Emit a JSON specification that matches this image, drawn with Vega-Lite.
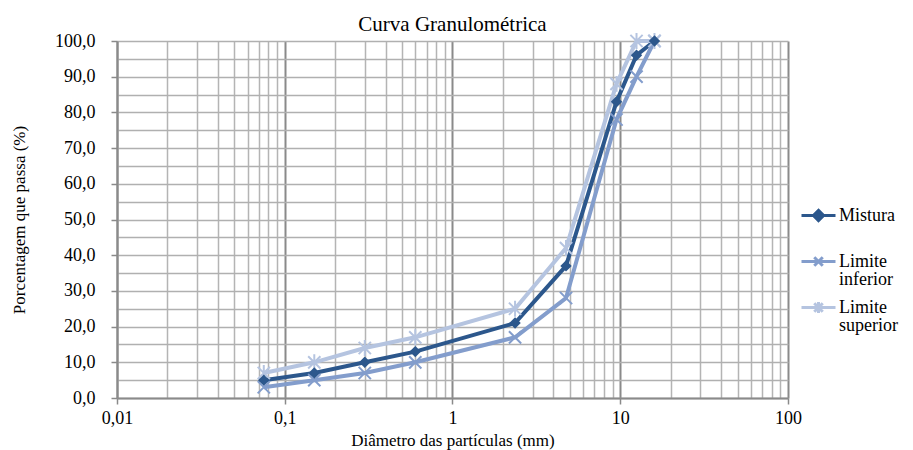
{
  "$schema": "https://vega.github.io/schema/vega-lite/v6.json",
  "autosize": {"type": "none"},
  "padding": {"left": 117, "top": 41, "right": 125, "bottom": 52},
  "width": 671,
  "height": 357,
  "background": "white",
  "title": {"text": "Curva Granulométrica", "font": "Liberation Serif", "fontSize": 21, "fontWeight": "normal", "color": "black", "offset": -6},
  "config": {
    "view": {"stroke": null},
    "font": "Liberation Serif",
    "legend": {"labelFont": "Liberation Serif", "labelFontSize": 18, "labelColor": "black", "labelLimit": 0}
  },
  "data": {"values": [
    {"serie": "Mistura", "d": 0.075, "p": 5},
    {"serie": "Mistura", "d": 0.15, "p": 7},
    {"serie": "Mistura", "d": 0.3, "p": 10},
    {"serie": "Mistura", "d": 0.6, "p": 13},
    {"serie": "Mistura", "d": 2.36, "p": 21},
    {"serie": "Mistura", "d": 4.75, "p": 37},
    {"serie": "Mistura", "d": 9.5, "p": 83},
    {"serie": "Mistura", "d": 12.5, "p": 96},
    {"serie": "Mistura", "d": 16, "p": 100},
    {"serie": "Limite inferior", "d": 0.075, "p": 3},
    {"serie": "Limite inferior", "d": 0.15, "p": 5},
    {"serie": "Limite inferior", "d": 0.3, "p": 7},
    {"serie": "Limite inferior", "d": 0.6, "p": 10},
    {"serie": "Limite inferior", "d": 2.36, "p": 17},
    {"serie": "Limite inferior", "d": 4.75, "p": 28},
    {"serie": "Limite inferior", "d": 9.5, "p": 78},
    {"serie": "Limite inferior", "d": 12.5, "p": 90},
    {"serie": "Limite inferior", "d": 16, "p": 100},
    {"serie": "Limite superior", "d": 0.075, "p": 7},
    {"serie": "Limite superior", "d": 0.15, "p": 10},
    {"serie": "Limite superior", "d": 0.3, "p": 14},
    {"serie": "Limite superior", "d": 0.6, "p": 17},
    {"serie": "Limite superior", "d": 2.36, "p": 25},
    {"serie": "Limite superior", "d": 4.75, "p": 42},
    {"serie": "Limite superior", "d": 9.5, "p": 88},
    {"serie": "Limite superior", "d": 12.5, "p": 100},
    {"serie": "Limite superior", "d": 16, "p": 100}
  ]},
  "encoding": {
    "x": {
      "field": "d", "type": "quantitative",
      "scale": {"type": "log", "domain": [0.01, 100], "nice": false},
      "axis": {
        "title": "Diâmetro das partículas (mm)",
        "values": [0.01,0.02,0.03,0.04,0.05,0.06,0.07,0.08,0.09,0.1,0.2,0.3,0.4,0.5,0.6,0.7,0.8,0.9,1,2,3,4,5,6,7,8,9,10,20,30,40,50,60,70,80,90,100],
        "labelExpr": "indexof([0.01,0.1,1,10,100], datum.value) >= 0 ? replace(format(datum.value, '~g'), '.', ',') : ''",
        "labelOverlap": false,
        "labelBound": false,
        "labelFlush": false,
        "grid": true,
        "gridColor": {"condition": {"test": "indexof([0.01,0.1,1,10,100], datum.value) >= 0", "value": "#8a8a8a"}, "value": "#b4b4b4"},
        "gridWidth": {"condition": {"test": "indexof([0.01,0.1,1,10,100], datum.value) >= 0", "value": 2}, "value": 1.5},
        "tickSize": {"condition": {"test": "indexof([0.01,0.1,1,10,100], datum.value) >= 0", "value": 6}, "value": 0},
        "tickColor": "#8a8a8a",
        "tickWidth": 1.5,
        "domainColor": "#8a8a8a",
        "domainWidth": 2,
        "labelFont": "Liberation Serif",
        "labelFontSize": 18,
        "labelColor": "black",
        "labelPadding": 5,
        "titleFont": "Liberation Serif",
        "titleFontSize": 17,
        "titleFontWeight": "normal",
        "titleColor": "black",
        "titlePadding": 5
      }
    },
    "y": {
      "field": "p", "type": "quantitative",
      "scale": {"domain": [0, 100], "nice": false},
      "axis": {
        "title": "Porcentagem que passa (%)",
        "values": [0,5,10,15,20,25,30,35,40,45,50,55,60,65,70,75,80,85,90,95,100],
        "labelExpr": "datum.value % 10 == 0 ? replace(format(datum.value, '.1f'), '.', ',') : ''",
        "labelOverlap": false,
        "labelBound": false,
        "labelFlush": false,
        "grid": true,
        "gridColor": "#b0b0b0",
        "gridWidth": 1.5,
        "tickSize": {"condition": {"test": "datum.value % 10 == 0", "value": 6}, "value": 0},
        "tickColor": "#8a8a8a",
        "tickWidth": 1.5,
        "domainColor": "#8a8a8a",
        "domainWidth": 2,
        "labelFont": "Liberation Serif",
        "labelFontSize": 18,
        "labelColor": "black",
        "labelPadding": 16,
        "titleFont": "Liberation Serif",
        "titleFontSize": 17,
        "titleFontWeight": "normal",
        "titleColor": "black",
        "titlePadding": 26
      }
    }
  },
  "layer": [
    {
      "mark": {"type": "line", "strokeWidth": 4},
      "encoding": {
        "color": {"field": "serie", "type": "nominal",
          "scale": {"range": ["#839dcc", "#b5c4e0", "#2c578c"]},
          "legend": null}
      }
    },
    {
      "transform": [{"filter": "datum.serie == 'Limite inferior'"}],
      "mark": {"type": "point", "filled": false, "strokeWidth": 2, "size": 150, "opacity": 1, "shape": "M-1,-1L1,1M-1,1L1,-1", "color": "#839dcc"},
      "encoding": {}
    },
    {
      "transform": [{"filter": "datum.serie == 'Limite superior'"}],
      "mark": {"type": "point", "filled": false, "strokeWidth": 2, "size": 150, "opacity": 1, "shape": "M-1,-1L1,1M-1,1L1,-1M0,-1.3L0,1.3", "color": "#b5c4e0"},
      "encoding": {}
    },
    {
      "transform": [{"filter": "datum.serie == 'Mistura'"}],
      "mark": {"type": "point", "shape": "diamond", "filled": true, "size": 130, "opacity": 1, "color": "#2c578c"},
      "encoding": {}
    },
    {
      "mark": {"type": "point", "filled": true, "clip": true, "opacity": 1},
      "encoding": {
        "y": {"datum": 500},
        "fill": {"field": "serie", "type": "nominal",
          "scale": {"domain": ["Mistura", "Limite inferior", "Limite superior"], "range": ["#2c578c", "#839dcc", "#b5c4e0"]},
          "legend": {
            "title": null, "orient": "none", "legendX": 683, "legendY": 156,
            "symbolSize": 1156, "symbolStrokeWidth": 3, "symbolOpacity": 1,
            "labelFont": "Liberation Serif", "labelFontSize": 18, "labelColor": "black",
            "labelExpr": "datum.label == 'Mistura' ? ['Mistura', ' '] : split(datum.label, ' ')",
            "labelLimit": 0, "rowPadding": -18, "padding": 0, "labelOffset": 2,
            "encode": {"labels": {"update": {"font": {"value": "Liberation Serif"}, "fontSize": {"value": 18}, "fill": {"value": "black"}, "lineHeight": {"value": 18}}}}
          }},
        "stroke": {"field": "serie", "type": "nominal",
          "scale": {"domain": ["Mistura", "Limite inferior", "Limite superior"], "range": ["#2c578c", "#839dcc", "#b5c4e0"]},
          "legend": {
            "title": null, "orient": "none", "legendX": 683, "legendY": 156,
            "symbolSize": 1156, "symbolStrokeWidth": 3, "symbolOpacity": 1,
            "labelFont": "Liberation Serif", "labelFontSize": 18, "labelColor": "black",
            "labelExpr": "datum.label == 'Mistura' ? ['Mistura', ' '] : split(datum.label, ' ')",
            "labelLimit": 0, "rowPadding": -18, "padding": 0, "labelOffset": 2,
            "encode": {"labels": {"update": {"font": {"value": "Liberation Serif"}, "fontSize": {"value": 18}, "fill": {"value": "black"}, "lineHeight": {"value": 18}}}}
          }},
        "shape": {"field": "serie", "type": "nominal",
          "scale": {"domain": ["Mistura", "Limite inferior", "Limite superior"], "range": [
            "M-1,0L1,0M0,-0.3L0.3,0L0,0.3L-0.3,0Z",
            "M-1,0L1,0M-0.25,-0.25L0.25,0.25M-0.25,0.25L0.25,-0.25",
            "M-1,0L1,0M-0.25,-0.25L0.25,0.25M-0.25,0.25L0.25,-0.25M0,-0.32L0,0.32"]},
          "legend": {
            "title": null, "orient": "none", "legendX": 683, "legendY": 156,
            "symbolSize": 1156, "symbolStrokeWidth": 3, "symbolOpacity": 1,
            "labelFont": "Liberation Serif", "labelFontSize": 18, "labelColor": "black",
            "labelExpr": "datum.label == 'Mistura' ? ['Mistura', ' '] : split(datum.label, ' ')",
            "labelLimit": 0, "rowPadding": -18, "padding": 0, "labelOffset": 2,
            "encode": {"labels": {"update": {"font": {"value": "Liberation Serif"}, "fontSize": {"value": 18}, "fill": {"value": "black"}, "lineHeight": {"value": 18}}}}
          }}
      }
    }
  ]
}
